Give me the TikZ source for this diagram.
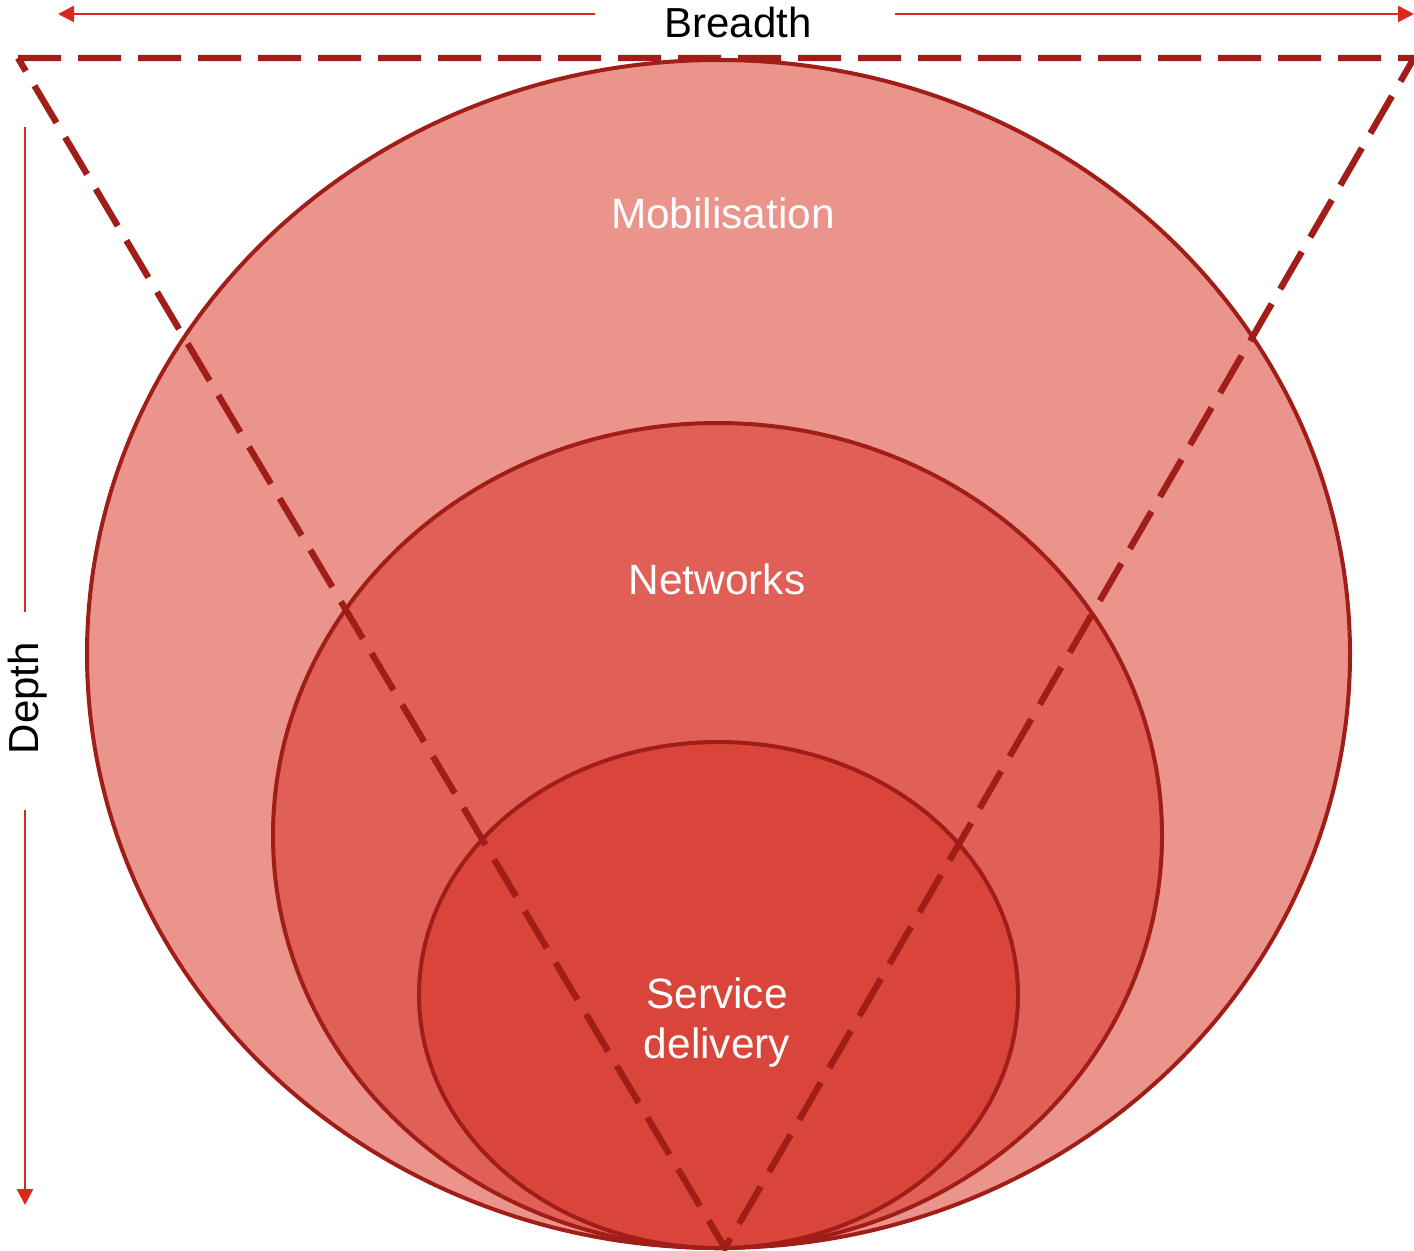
\documentclass[tikz,border=0pt]{standalone}
\usepackage{fontspec}
\setmainfont{Liberation Sans}
\usetikzlibrary{arrows.meta}
\definecolor{ringA}{HTML}{EA948C}
\definecolor{ringB}{HTML}{E06058}
\definecolor{ringC}{HTML}{D9453A}
\definecolor{rim}{HTML}{A11D17}
\definecolor{axis}{HTML}{D9281E}
\tikzset{
  ring/.style={draw=rim, line width=2pt},
  cone/.style={draw=rim, line width=3.2pt, dash pattern=on 21.5pt off 8.5pt},
  axisline/.style={draw=axis, line width=1.3pt},
  axisarrow/.style={axisline, -{Triangle[length=8pt,width=8pt]}},
  lbl/.style={text=white, font=\fontsize{21.2}{25}\selectfont, align=center, inner sep=0pt},
  axlbl/.style={text=black, font=\fontsize{21}{25}\selectfont, inner sep=0pt},
}
\begin{document}
\begin{tikzpicture}[x=0.5pt,y=-0.5pt]
\useasboundingbox (0,0) rectangle (1414,1250);
% nested rings
\path[ring, fill=ringA] (718.5,654) ellipse [x radius=631.5, y radius=594];
\path[ring, fill=ringB] (717.5,835.5) ellipse [x radius=444.5, y radius=412.5];
\path[ring, fill=ringC] (718.5,995) ellipse [x radius=299.5, y radius=253];
% dashed cone
\coordinate (tl) at (18,58);
\coordinate (tr) at (1414,58);
\coordinate (tip) at (725,1248);
\draw[cone] (tl) -- (tr) -- (tip) -- cycle;
% labels
\node[lbl] (mob) at (723,213) {Mobilisation};
\node[lbl] (net) at (717,579) {Networks};
\node[lbl] (svc) at (717,1023) {Service\\delivery};
% breadth axis
\node[axlbl] (breadth) at (738,22) {Breadth};
\coordinate (bl0) at (595,14);
\coordinate (bl1) at (58,14);
\coordinate (br0) at (895,14);
\coordinate (br1) at (1414,14);
\draw[axisarrow] (bl0) -- (bl1);
\draw[axisarrow] (br0) -- (br1);
% depth axis
\node[axlbl, rotate=90] (depth) at (28,698) {Depth};
\coordinate (dt0) at (25,127);
\coordinate (dt1) at (25,612);
\coordinate (db0) at (25,810);
\coordinate (db1) at (25,1205);
\draw[axisline] (dt0) -- (dt1);
\draw[axisarrow] (db0) -- (db1);
\end{tikzpicture}
\end{document}
